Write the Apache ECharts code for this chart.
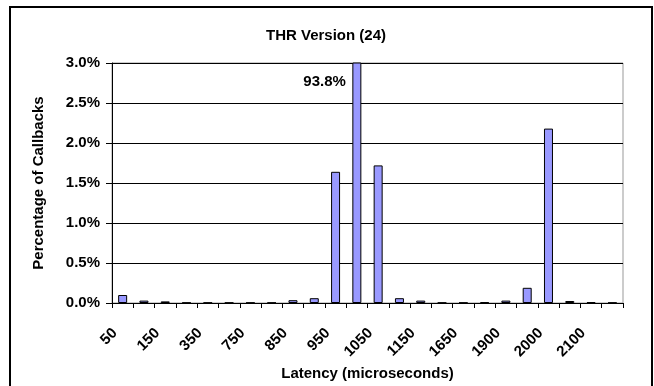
<!DOCTYPE html>
<html>
<head>
<meta charset="utf-8">
<script src="https://cdn.jsdelivr.net/npm/echarts@6/dist/echarts.min.js"></script>
<style>
  html, body { margin: 0; padding: 0; background: #fff; }
  #chart { width: 654px; height: 386px; }
</style>
</head>
<body>
<div id="chart"></div>
<script>
// latency bins (microseconds), only every other one is labelled on the axis
const latencyBins = ['50', '100', '150', '250', '350', '550', '750', '800', '850', '900', '950', '1000',
  '1050', '1100', '1150', '1400', '1650', '1800', '1900', '1950', '2000', '2050', '2100', '2150'];
// percentage of callbacks per bin (the 1000 bin runs off the top of the axis)
const callbackPct = [0.10, 0.03, 0.02, 0.005, 0.005, 0.005, 0.005, 0.005, 0.035, 0.06, 1.64, 93.8,
  1.72, 0.06, 0.03, 0.005, 0.005, 0.01, 0.03, 0.19, 2.18, 0.025, 0.01, 0.005];
const yTicks = [0, 0.5, 1.0, 1.5, 2.0, 2.5, 3.0];

const font = 'Liberation Sans, Arial, sans-serif';

const chart = echarts.init(document.getElementById('chart'));

chart.setOption({
  animation: false,
  backgroundColor: '#fff',
  textStyle: { fontFamily: font },
  title: {
    text: 'THR Version (24)',
    left: 321,
    top: 23,
    textAlign: 'center',
    textStyle: { fontFamily: font, fontSize: 15, fontWeight: 'bold', color: '#000' }
  },
  graphic: [{
    type: 'rect',
    shape: { x: 10, y: 7, width: 642, height: 390 },
    style: { fill: 'none', stroke: '#000', lineWidth: 2 },
    silent: true
  }],
  grid: {
    left: 112, right: 31, top: 63, bottom: 83,
    containLabel: false,
    outerBoundsMode: 'none',
    show: true, borderColor: '#999', borderWidth: 1
  },
  xAxis: {
    type: 'category',
    data: latencyBins,
    name: 'Latency (microseconds)',
    nameLocation: 'middle',
    nameGap: 63,
    nameTextStyle: { fontFamily: font, fontSize: 15, fontWeight: 'bold', color: '#000' },
    axisLine: { lineStyle: { color: '#000', width: 1 } },
    axisTick: { show: true, interval: 0, length: 5, lineStyle: { color: '#000' } },
    axisLabel: {
      interval: 1,
      rotate: 45,
      margin: 20,
      padding: [0, 11, 0, 0],
      fontFamily: font,
      fontSize: 15,
      fontWeight: 'bold',
      color: '#000'
    }
  },
  yAxis: {
    type: 'value',
    min: 0,
    max: yTicks[yTicks.length - 1],
    interval: yTicks[1] - yTicks[0],
    name: 'Percentage of Callbacks',
    nameLocation: 'middle',
    nameRotate: 90,
    nameGap: 66,
    nameTextStyle: { fontFamily: font, fontSize: 15, fontWeight: 'bold', color: '#000' },
    axisLine: { show: true, lineStyle: { color: '#000', width: 1 } },
    axisTick: { show: true, length: 6, lineStyle: { color: '#000' } },
    axisLabel: {
      margin: 12,
      formatter: v => v.toFixed(1) + '%',
      fontFamily: font,
      fontSize: 15,
      fontWeight: 'bold',
      color: '#000'
    },
    splitLine: { show: true, lineStyle: { color: '#000', width: 1 } }
  },
  series: [{
    type: 'bar',
    data: callbackPct,
    barWidth: 9,
    clip: true,
    itemStyle: { color: '#9999ff', borderColor: '#000', borderWidth: 1 },
    markPoint: {
      symbol: 'rect',
      symbolSize: 0,
      data: [{ coord: ['1000', 2.76], value: callbackPct[11] }],
      label: {
        show: true,
        position: 'left',
        distance: 11,
        formatter: p => p.value.toFixed(1) + '%',
        fontFamily: font,
        fontSize: 15,
        fontWeight: 'bold',
        color: '#000'
      }
    }
  }]
});
</script>
</body>
</html>
